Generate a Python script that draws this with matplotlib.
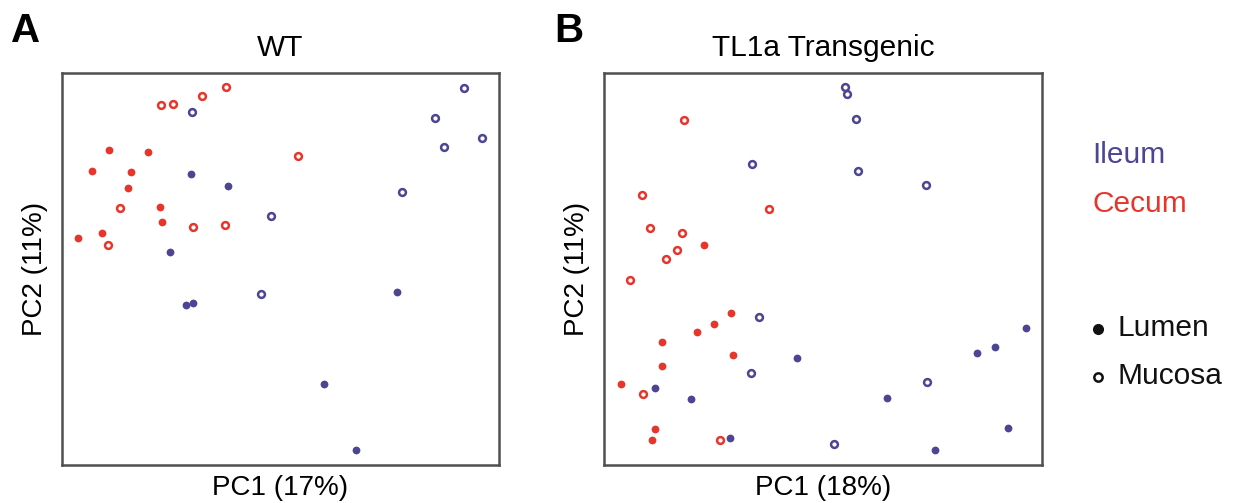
import matplotlib
matplotlib.use("Agg")
import matplotlib.pyplot as plt
from matplotlib.lines import Line2D

plt.rcParams['font.family'] = ['Liberation Sans', 'DejaVu Sans']

RED = '#E8352B'
BLUE = '#4B4594'

# ---- Panel A (WT) : values in arbitrary PC units (0-100 scale) ----
wt_cecum_mucosa_x = [22.65, 25.40, 32.10, 37.53, 53.94, 13.20, 30.05, 37.37, 10.53]
wt_cecum_mucosa_y = [91.76, 92.02, 94.06, 96.35, 78.83, 65.64, 60.64, 61.30, 56.05]
wt_cecum_lumen_x = [10.76, 19.61, 6.93, 15.86, 15.17, 22.36, 22.81, 9.08, 3.59]
wt_cecum_lumen_y = [80.28, 79.92, 75.00, 74.74, 70.74, 65.74, 61.99, 59.11, 57.91]
wt_ileum_mucosa_x = [29.75, 47.89, 45.61, 91.99, 85.35, 96.18, 87.41, 77.80]
wt_ileum_mucosa_y = [89.97, 63.60, 43.62, 96.17, 88.60, 83.42, 81.05, 69.57]
wt_ileum_lumen_x = [29.45, 37.92, 24.78, 28.38, 30.05, 76.73, 60.02, 67.21]
wt_ileum_lumen_y = [74.31, 71.10, 54.34, 40.89, 41.25, 44.21, 20.59, 3.83]

# ---- Panel B (TL1a Transgenic) ----
tg_cecum_mucosa_x = [18.20, 8.68, 37.67, 10.50, 17.88, 16.74, 14.22, 5.87, 8.84, 26.48]
tg_cecum_mucosa_y = [88.01, 68.80, 65.31, 60.46, 59.18, 54.92, 52.55, 47.27, 18.03, 6.30]
tg_cecum_lumen_x = [22.90, 29.06, 25.11, 21.23, 13.17, 29.38, 13.17, 3.88, 11.64, 11.03]
tg_cecum_lumen_y = [56.05, 38.78, 35.89, 34.01, 31.45, 28.06, 25.33, 20.74, 9.18, 6.45]
tg_ileum_mucosa_x = [33.86, 35.46, 33.63, 54.95, 55.55, 57.60, 58.06, 73.45, 73.68, 52.51]
tg_ileum_mucosa_y = [76.79, 37.76, 23.55, 96.43, 94.57, 88.19, 75.00, 71.35, 21.10, 5.43]
tg_ileum_lumen_x = [44.06, 11.71, 19.93, 28.84, 96.28, 89.20, 85.23, 64.68, 92.24, 75.57]
tg_ileum_lumen_y = [27.37, 19.57, 16.84, 6.96, 34.87, 30.18, 28.57, 17.09, 9.36, 3.83]

titles = ['WT', 'TL1a Transgenic']
xlabels = ['PC1 (17%)', 'PC1 (18%)']
ylabel = 'PC2 (11%)'
panel_letters = ['A', 'B']

W, H = 1233, 503
fig = plt.figure(figsize=(W / 100, H / 100), dpi=100)

def px_rect(l, t, r, b):
    return [l / W, 1 - b / H, (r - l) / W, (b - t) / H]

axA = fig.add_axes(px_rect(62, 73, 499, 465))
axB = fig.add_axes(px_rect(604, 73, 1042, 465))

def draw(ax, cm, cl, im, il, title, xlabel):
    filled = dict(marker='o', linestyle='none', markersize=5.6, markeredgewidth=0)
    ring = dict(marker='o', linestyle='none', markersize=4.9, markeredgewidth=1.8,
                markerfacecolor='white')
    ax.plot(cl[0], cl[1], color=RED, **filled)
    ax.plot(il[0], il[1], color=BLUE, **filled)
    ax.plot(cm[0], cm[1], markeredgecolor=RED, **ring)
    ax.plot(im[0], im[1], markeredgecolor=BLUE, **ring)
    ax.set_xlim(0, 100)
    ax.set_ylim(0, 100)
    ax.set_xticks([])
    ax.set_yticks([])
    for s in ax.spines.values():
        s.set_color('#505050')
        s.set_linewidth(1.8)
    ax.set_title(title, fontsize=21.5, pad=12)
    ax.set_xlabel(xlabel, fontsize=20, labelpad=7)
    ax.set_ylabel(ylabel, fontsize=20, labelpad=10)

draw(axA, (wt_cecum_mucosa_x, wt_cecum_mucosa_y), (wt_cecum_lumen_x, wt_cecum_lumen_y),
     (wt_ileum_mucosa_x, wt_ileum_mucosa_y), (wt_ileum_lumen_x, wt_ileum_lumen_y),
     titles[0], xlabels[0])
draw(axB, (tg_cecum_mucosa_x, tg_cecum_mucosa_y), (tg_cecum_lumen_x, tg_cecum_lumen_y),
     (tg_ileum_mucosa_x, tg_ileum_mucosa_y), (tg_ileum_lumen_x, tg_ileum_lumen_y),
     titles[1], xlabels[1])

# panel letters
fig.text(11 / W, 1 - 12 / H, panel_letters[0], fontsize=29, fontweight='bold', va='top', ha='left')
fig.text(554 / W, 1 - 12 / H, panel_letters[1], fontsize=29, fontweight='bold', va='top', ha='left')

# legend
fig.text(1092 / W, 1 - 155 / H, 'Ileum', color=BLUE, fontsize=21.5, va='center', ha='left')
fig.text(1092 / W, 1 - 204 / H, 'Cecum', color=RED, fontsize=21.5, va='center', ha='left')
fig.add_artist(Line2D([1097.7 / W], [1 - 329 / H], marker='o', markersize=8,
                      color='#111111', markeredgewidth=0, transform=fig.transFigure))
fig.add_artist(Line2D([1097.7 / W], [1 - 377 / H], marker='o', markersize=6,
                      markerfacecolor='white', markeredgecolor='#111111', markeredgewidth=1.8,
                      transform=fig.transFigure))
fig.text(1117 / W, 1 - 328 / H, 'Lumen', color='#111111', fontsize=21.5, va='center', ha='left')
fig.text(1117 / W, 1 - 376 / H, 'Mucosa', color='#111111', fontsize=21.5, va='center', ha='left')

fig.savefig('out.png', dpi=100)
